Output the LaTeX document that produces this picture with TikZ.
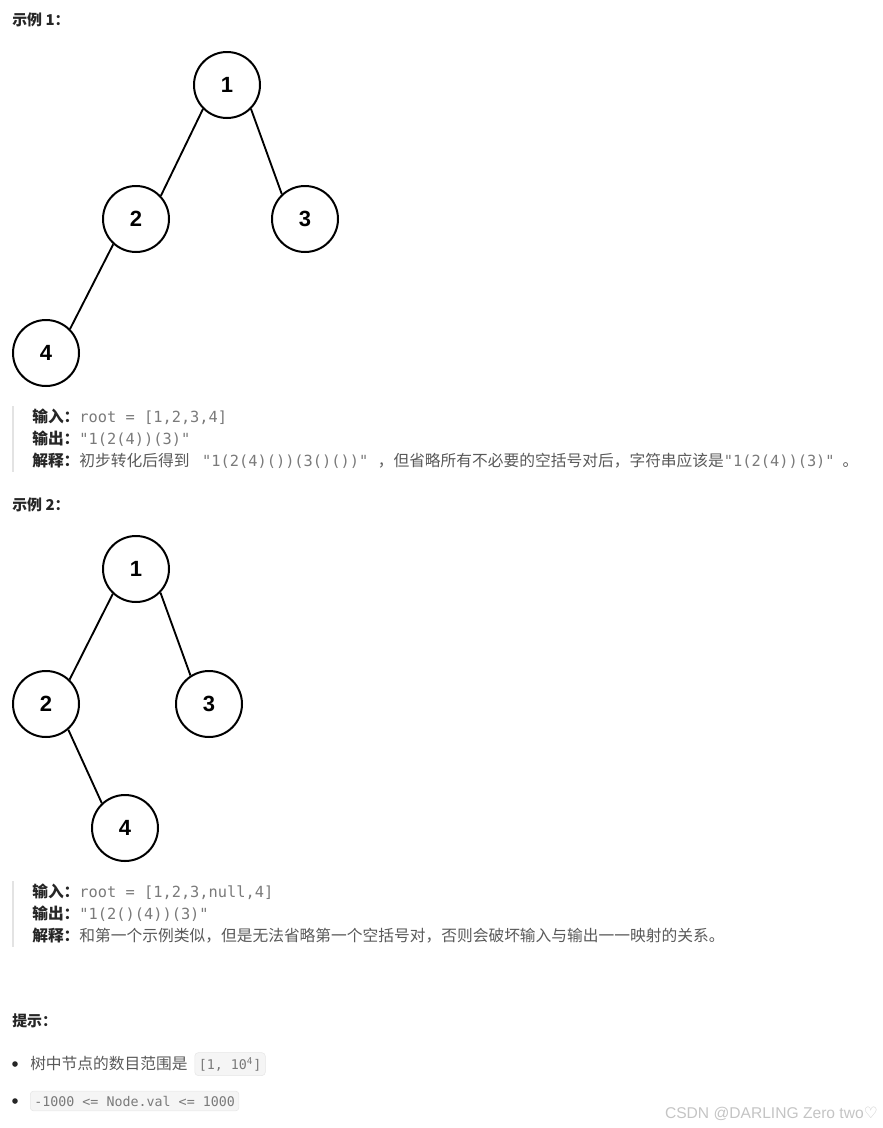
\documentclass[tikz,border=0pt]{standalone}
\usepackage{fontspec}
\setmainfont{Liberation Sans}
\setmonofont{DejaVu Sans Mono}
\newfontfamily\cjk{Noto Sans CJK SC}
\newfontfamily\symfont{DejaVu Sans}
\usetikzlibrary{positioning}
\definecolor{labelgray}{HTML}{262626}
\definecolor{textgray}{HTML}{595959}
\definecolor{codegray}{HTML}{7A7A7A}
\definecolor{bargray}{HTML}{E3E3E3}
\definecolor{boxfill}{HTML}{F5F5F5}
\definecolor{boxline}{HTML}{E6E6E6}
\definecolor{markgray}{HTML}{C4C4C4}
\newcommand{\lbl}[1]{{\bfseries\color{labelgray}#1}}
\newcommand{\cd}[1]{{\ttfamily\fontsize{11.5}{12}\selectfont\color{codegray}#1}}

\begin{document}
\begin{tikzpicture}[
  x=0.75pt, y=-0.75pt,
  treenode/.style={circle, draw, line width=1.5pt, minimum size=66*0.75pt, inner sep=0pt, font=\fontsize{16.5}{18}\selectfont\bfseries},
  edge/.style={line width=1.4pt},
  heading/.style={anchor=base west, inner sep=0pt, text=labelgray, font=\cjk\fontsize{11.2}{12}\selectfont\bfseries},
  line/.style={anchor=base west, inner sep=0pt, text=textgray, font=\cjk\fontsize{11.8}{13}\selectfont},
  inlinecode/.style={anchor=base west, rounded corners=2.5pt, fill=boxfill, draw=boxline, text=codegray, inner xsep=3pt, inner ysep=3.5pt, font=\ttfamily\fontsize{10}{11}\selectfont},
  quotebar/.style={draw=bargray, line width=1.5pt}
]
\useasboundingbox (0,0) rectangle (882,1128);

% example 1
\node[heading] (h1) at (12,25) {示例 1：};
\node[treenode] (a1) at (227,85) {1};
\node[treenode] (a2) at (136,219) {2};
\node[treenode] (a3) at (305,219) {3};
\node[treenode] (a4) at (46,353) {4};
\draw[edge] (a1.-135) -- (a2.43);
\draw[edge] (a1.-45) -- (a3.133);
\draw[edge] (a2.-132) -- (a4.45);

\coordinate (bar1top) at (13,406);
\coordinate (bar1bot) at (13,472);
\draw[quotebar] (bar1top) -- (bar1bot);
\node[line] (in1) at (32,422) {\lbl{输入：}\cd{root = [1,2,3,4]}};
\node[line] (out1) at (32,444) {\lbl{输出：}\cd{"1(2(4))(3)"}};
\node[line] (ex1) at (32,466) {\lbl{解释：}初步转化后得到\hspace{0.8em}\cd{"1(2(4)())(3()())"}\hspace{0.6em}，但省略所有不必要的空括号对后，字符串应该是\cd{"1(2(4))(3)"}\hspace{0.5em}。};

% example 2
\node[heading] (h2) at (12,510) {示例 2：};
\node[treenode] (b1) at (136,569) {1};
\node[treenode] (b2) at (46,704) {2};
\node[treenode] (b3) at (209,704) {3};
\node[treenode] (b4) at (125,828) {4};
\draw[edge] (b1.-133) -- (b2.46);
\draw[edge] (b1.-44) -- (b3.123);
\draw[edge] (b2.-49) -- (b4.133);

\coordinate (bar2top) at (13,881);
\coordinate (bar2bot) at (13,947);
\draw[quotebar] (bar2top) -- (bar2bot);
\node[line] (in2) at (32,897) {\lbl{输入：}\cd{root = [1,2,3,null,4]}};
\node[line] (out2) at (32,919) {\lbl{输出：}\cd{"1(2()(4))(3)"}};
\node[line] (ex2) at (32,941) {\lbl{解释：}和第一个示例类似，但是无法省略第一个空括号对，否则会破坏输入与输出一一映射的关系。};

% hints
\node[heading] (h3) at (12,1026) {提示：};
\fill[labelgray] (15,1064) circle (2.8);
\node[line] (tip1) at (30,1069) {树中节点的数目范围是};
\node[inlinecode, right=5pt of tip1.base east, anchor=base west] (rng) {[1, 10\textsuperscript{4}]};
\fill[labelgray] (15,1101) circle (2.8);
\node[inlinecode] (val) at (30,1106) {-1000 <= Node.val <= 1000};

\node[anchor=base east, inner sep=0pt, text=markgray, font=\fontsize{11.7}{13}\selectfont] (mark) at (878,1118) {CSDN @DARLING Zero two{\symfont ♡}};
\end{tikzpicture}
\end{document}
